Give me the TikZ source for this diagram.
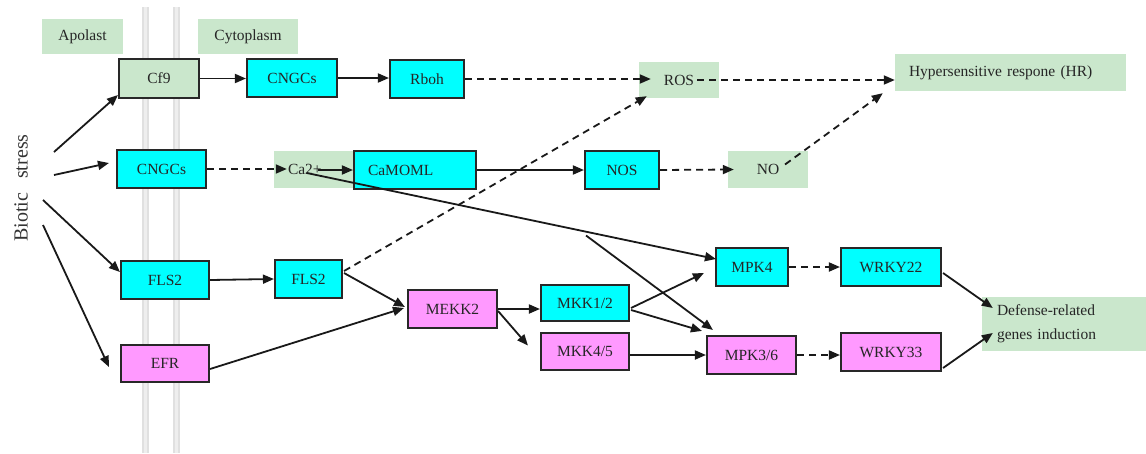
\documentclass[tikz,border=0pt]{standalone}
\usepackage{fontspec}
\setmainfont{Liberation Serif}
\usetikzlibrary{arrows.meta,calc}
\definecolor{boxcyan}{RGB}{0,255,255}
\definecolor{boxpink}{RGB}{255,153,255}
\definecolor{boxgreen}{RGB}{202,231,204}
\definecolor{edgecol}{RGB}{40,40,40}
\definecolor{membrane}{RGB}{224,224,224}
\definecolor{membranein}{RGB}{238,238,238}
\begin{document}
\begin{tikzpicture}[x=1pt,y=-1pt,
  font=\fontsize{15.5}{18}\selectfont,
  base/.style={draw=edgecol, line width=2.1pt, text=black!85, inner sep=0pt},
  cbox/.style={base, fill=boxcyan},
  pbox/.style={base, fill=boxpink},
  gbox/.style={base, fill=boxgreen},
  glabel/.style={fill=boxgreen, text=black!85, inner sep=0pt},
  sz/.style 2 args={minimum width=#1pt, minimum height=#2pt},
  arr/.style={line width=1.8pt, draw=black!90, -{Triangle[length=11pt,width=9pt]}},
  darr/.style={arr, dash pattern=on 7pt off 5pt},
]
\useasboundingbox (0,0) rectangle (1146,453);
% membrane
\fill[membrane] (142,7) rectangle (148.5,453);
\fill[membranein] (144,7) rectangle (146.5,453);
\fill[membrane] (173,7) rectangle (179.5,453);
\fill[membranein] (175,7) rectangle (177.5,453);

% labels
\node[glabel, sz={81}{35}] (apo) at (82.5,36.5) {Apolast};
\node[glabel, sz={100}{35}] (cyto) at (248,36.5) {Cytoplasm};
\node[rotate=90, font=\fontsize{20}{24}\selectfont, text=black!80] (bio) at (21,188) {Biotic\hspace{0.7em}stress};

% row 1
\node[gbox, sz={80}{39}] (cf9) at (159,78.5) {Cf9};
\node[cbox, sz={90}{38}] (cngc1) at (292,78) {CNGCs};
\node[cbox, sz={74}{38}] (rboh) at (427,79) {Rboh};
\node[glabel, sz={80}{36}] (ros) at (679,80) {ROS};
\node[glabel, sz={231}{37}, text width=203pt, inner xsep=14pt, align=left] (hr) at (1010.5,72.5) {Hypersensitive respone (HR)};

% row 2
\node[cbox, sz={89}{38}] (cngc2) at (161.5,169) {CNGCs};
\node[glabel, sz={79}{37}, text width=51pt, inner xsep=14pt, align=left] (ca) at (313.5,169.5) {Ca2+};
\node[cbox, sz={122}{38}, text width=94pt, inner xsep=14pt, align=left] (camoml) at (415,170) {CaMOML};
\node[cbox, sz={74}{38}] (nos) at (622,170) {NOS};
\node[glabel, sz={80}{37}] (no) at (768,169.5) {NO};

% lower rows
\node[cbox, sz={88}{38}] (fls2a) at (165,280) {FLS2};
\node[cbox, sz={67}{38}] (fls2b) at (308.5,279) {FLS2};
\node[pbox, sz={88}{37}] (efr) at (165,363.5) {EFR};
\node[pbox, sz={89}{38}] (mekk2) at (452.5,309) {MEKK2};
\node[cbox, sz={88}{36}] (mkk12) at (585,303) {MKK1/2};
\node[pbox, sz={88}{37}] (mkk45) at (585,351.5) {MKK4/5};
\node[cbox, sz={72}{38}] (mpk4) at (752,267) {MPK4};
\node[pbox, sz={89}{38}] (mpk36) at (751.5,355) {MPK3/6};
\node[cbox, sz={100}{38}] (wrky22) at (891,267) {WRKY22};
\node[pbox, sz={100}{38}] (wrky33) at (891,352) {WRKY33};
\node[glabel, sz={164}{54}, text width=134pt, inner xsep=15pt, align=left, font=\fontsize{15.5}{24}\selectfont] (def) at (1064,324) {Defense-related\\genes induction};

% stress origins
\coordinate (bs1) at (54,152);
\coordinate (bs2) at (54,175);
\coordinate (bs3) at (43,200);
\coordinate (bs4) at (43,225);

\draw[arr] (bs1) -- ($(cf9.south west)+(0,-4)$);
\draw[arr] (bs2) -- ($(cngc2.west)+(-7,-6)$);
\draw[arr] (bs3) -- ($(fls2a.west)+(0,-8)$);
\draw[arr] (bs4) -- ($(efr.west)+(-11,3.5)$);

% row 1 connectors
\draw[arr] (cf9.east) -- (cngc1.west |- cf9.east);
\draw[arr] (cngc1.east) -- (rboh.west |- cngc1.east);
\draw[darr] (rboh.east) -- ($(ros.west)+(12,-1)$);
\draw[darr] ($(ros.east)+(-22,0)$) -- (hr.west |- ros.east);
\draw[darr] ($(no.center)+(17,-5)$) -- ($(hr.south west)+(-12,2)$);
\draw[darr] ($(fls2b.east)+(1,-8)$) -- ($(ros.south west)+(8,-2)$);

% row 2 connectors
\draw[darr] (cngc2.east) -- ($(ca.west)+(13,-0.5)$);
\draw[arr] ($(ca.west)+(44,0.5)$) -- (camoml.west);
\draw[arr] ($(ca.west)+(33,3.5)$) -- coordinate[pos=0.68] (brk) ($(mpk4.west)+(1,-8)$);
\draw[arr] ($(brk)+(1,4)$) -- ($(mpk36.north west)+(7,-5)$);
\draw[arr] (camoml.east) -- (nos.west);
\draw[darr] (nos.east) -- ($(no.west)+(6,0)$);

% lower connectors
\draw[arr] (fls2a.east) -- (fls2b.west);
\draw[arr] ($(fls2b.east)+(1,-6)$) -- ($(mekk2.west)+(-2,-2)$);
\draw[arr] ($(efr.east)+(0,5.5)$) -- ($(mekk2.west)+(-3,-1)$);
\draw[arr] (mekk2.east) -- (mkk12.west |- mekk2.east);
\draw[arr] ($(mekk2.east)+(0,2)$) -- ($(mkk45.west)+(-12,-6)$);
\draw[arr] ($(mkk12.east)+(1,5)$) -- ($(mpk4.west)+(-11,6)$);
\draw[arr] ($(mkk12.east)+(1,7)$) -- ($(mpk36.north west)+(-4,-4)$);
\draw[arr] (mkk45.east |- mpk36.west) -- (mpk36.west);
\draw[darr] (mpk4.east) -- (wrky22.west);
\draw[darr] (mpk36.east) -- (wrky33.west |- mpk36.east);
\draw[arr] ($(wrky22.east)+(1,6)$) -- ($(def.west)+(11,-16)$);
\draw[arr] ($(wrky33.east)+(1,16)$) -- ($(def.west)+(11,9)$);
\end{tikzpicture}
\end{document}
